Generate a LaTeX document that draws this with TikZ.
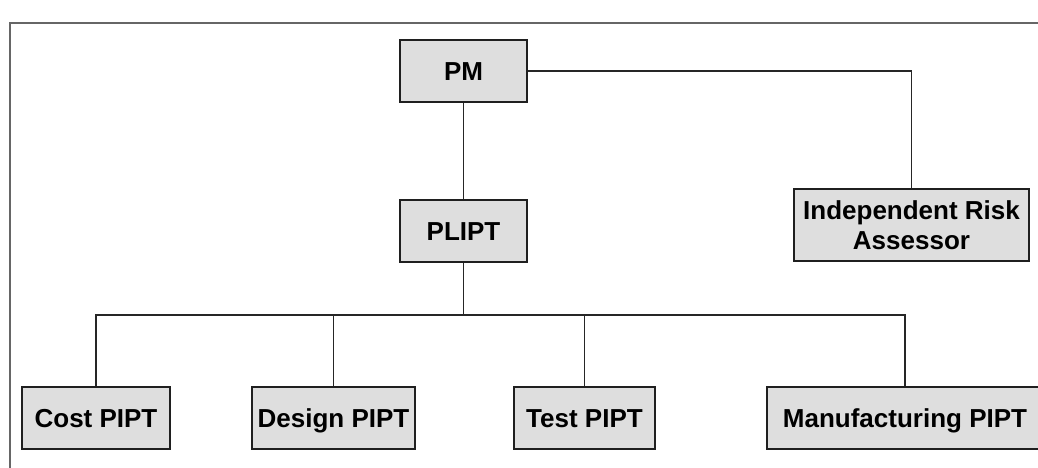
\documentclass[tikz,border=0pt]{standalone}
\usepackage{fontspec}
\setmainfont{Liberation Sans}
\usetikzlibrary{calc}
\begin{document}
\begin{tikzpicture}[x=1pt,y=-1pt,
  boxbase/.style={draw=black!88, line width=1.6pt, fill=black!13, inner sep=0pt,
    font=\fontsize{26}{30}\selectfont\bfseries, minimum height=62pt, align=center},
  box/.style={boxbase, text height=19pt, text depth=0pt},
  link/.style={draw=black!85, line width=1.4pt},
  frame/.style={draw=black!60, line width=1.6pt}]
\useasboundingbox (0,0) rectangle (1038,468);
\begin{scope}
\clip (0,0) rectangle (1038,468);
\draw[frame] (10,469) -- (10,23) -- (1040,23);
\node[box, minimum width=127pt] (PM) at (463.5,71) {PM};
\node[box, minimum width=127pt] (PLIPT) at (463.5,231) {PLIPT};
\node[boxbase, minimum width=235pt, minimum height=72pt] (IRA) at (911.5,225) {Independent Risk\\Assessor};
\node[box, minimum width=148pt] (Cost) at (96,418) {Cost PIPT};
\node[box, minimum width=163pt] (Design) at (333.5,418) {Design PIPT};
\node[box, minimum width=141pt] (Test) at (584.5,418) {Test PIPT};
\node[box, minimum width=276pt] (Manuf) at (905,418) {Manufacturing PIPT};
\coordinate (bar) at ($(PLIPT.south)+(0,52)$);
\draw[link] (PM.south) -- (PLIPT.north);
\draw[link] (PM.east) -| (IRA.north);
\draw[link] (PLIPT.south) -- (bar);
\draw[link] (bar) -| (Cost.north);
\draw[link] (bar) -| (Design.north);
\draw[link] (bar) -| (Test.north);
\draw[link] (bar) -| (Manuf.north);
\end{scope}
\end{tikzpicture}
\end{document}
